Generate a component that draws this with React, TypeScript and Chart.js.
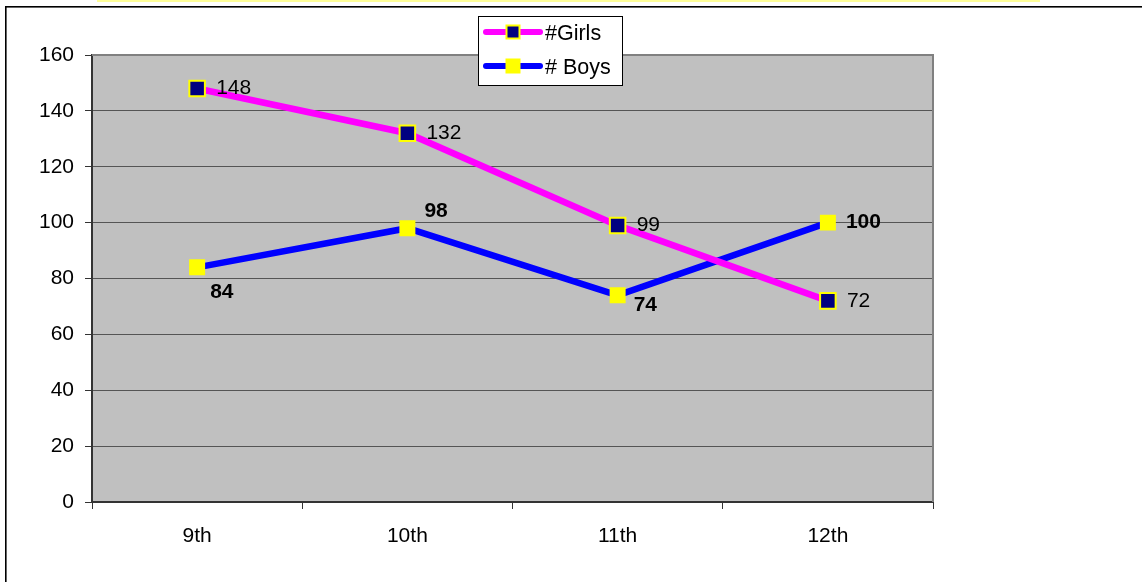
import React, { useEffect, useRef } from "react";
import { Chart, registerables } from "chart.js";

Chart.register(...registerables);

// ---- data ----
const categories = ["9th", "10th", "11th", "12th"];
const girls = [148, 132, 99, 72];
const boys = [84, 98, 74, 100];
const seriesNames = ["#Girls", "# Boys"];
const yMin = 0;
const yMax = 160;
const yStep = 20;

// ---- styles ----
const FONT = "'Liberation Sans', Arial, sans-serif";
const W = 1142;
const H = 582;
const PLOT = { left: 92, top: 55, right: 933, bottom: 502 };
// label offsets (px) relative to each point, per series
const girlsLabelOffsets = [
  [19, 0],
  [19, 0],
  [19, 0],
  [19, 0],
];
const boysLabelOffsets = [
  [13, 25],
  [17, -17],
  [16, 10],
  [18, 0],
];

const framePlugin = {
  id: "frame",
  beforeDraw(chart: any) {
    const ctx = chart.ctx;
    const ca = chart.chartArea;
    ctx.save();
    ctx.fillStyle = "#ffffff";
    ctx.fillRect(0, 0, W, H);
    // pale yellow strip at top
    ctx.fillStyle = "#FFFF99";
    ctx.fillRect(97, 0, 943, 2);
    // outer border (top & left visible)
    ctx.fillStyle = "#000000";
    ctx.fillRect(5, 6, W - 5, 1.6);
    ctx.fillRect(5, 6, 1.6, H - 6);
    // plot area
    ctx.fillStyle = "#C0C0C0";
    ctx.fillRect(ca.left, ca.top, ca.right - ca.left, ca.bottom - ca.top);
    ctx.restore();
  },
  beforeDatasetsDraw(chart: any) {
    const ctx = chart.ctx;
    const ca = chart.chartArea;
    ctx.save();
    ctx.strokeStyle = "#808080";
    ctx.lineWidth = 2;
    ctx.beginPath();
    ctx.moveTo(ca.left, ca.top);
    ctx.lineTo(ca.right, ca.top);
    ctx.lineTo(ca.right, ca.bottom);
    ctx.stroke();
    ctx.restore();
  },
};

const labelPlugin = {
  id: "valueLabels",
  afterDatasetsDraw(chart: any) {
    const ctx = chart.ctx;
    ctx.save();
    ctx.textBaseline = "middle";
    ctx.textAlign = "left";
    ctx.fillStyle = "#000";
    chart.data.datasets.forEach((ds: any, di: number) => {
      const meta = chart.getDatasetMeta(di);
      const offs = di === 0 ? girlsLabelOffsets : boysLabelOffsets;
      ctx.font = (di === 0 ? "" : "bold ") + "21px " + FONT;
      meta.data.forEach((pt: any, i: number) => {
        const [dx, dy] = offs[i];
        ctx.fillText(String(ds.data[i]), pt.x + dx, pt.y + dy);
      });
    });
    ctx.restore();
  },
};

const legendPlugin = {
  id: "customLegend",
  afterDraw(chart: any) {
    const ctx = chart.ctx;
    const box = { x: 478.5, y: 16.5, w: 144, h: 69 };
    ctx.save();
    ctx.fillStyle = "#fff";
    ctx.fillRect(box.x, box.y, box.w, box.h);
    ctx.strokeStyle = "#000";
    ctx.lineWidth = 1;
    ctx.strokeRect(box.x, box.y, box.w, box.h);
    const rows = [32, 66];
    chart.data.datasets.forEach((ds: any, di: number) => {
      const y = rows[di];
      ctx.strokeStyle = ds.borderColor;
      ctx.lineWidth = 6;
      ctx.lineCap = "round";
      ctx.beginPath();
      ctx.moveTo(486, y);
      ctx.lineTo(540, y);
      ctx.stroke();
      // marker
      const s = 15;
      ctx.fillStyle = ds.pointBorderColor;
      ctx.fillRect(513 - s / 2, y - s / 2, s, s);
      if (ds.pointBorderWidth > 0) {
        const inner = s - 2 * ds.pointBorderWidth;
        ctx.fillStyle = ds.pointBackgroundColor;
        ctx.fillRect(513 - inner / 2, y - inner / 2, inner, inner);
      }
      ctx.fillStyle = "#000";
      ctx.font = "21.5px " + FONT;
      ctx.textBaseline = "middle";
      ctx.textAlign = "left";
      ctx.fillText(ds.label, 545, y + 2.5);
    });
    ctx.restore();
  },
};

export default function App() {
  const ref = useRef<HTMLCanvasElement>(null);

  useEffect(() => {
    if (!ref.current) return;
    const chart = new Chart(ref.current, {
      type: "line",
      data: {
        labels: categories,
        datasets: [
          {
            label: seriesNames[0],
            data: girls,
            borderColor: "#FF00FF",
            borderWidth: 6.5,
            pointStyle: "rect",
            pointRadius: 11,
            pointHoverRadius: 11,
            pointBackgroundColor: "#000080",
            pointBorderColor: "#FFFF00",
            pointBorderWidth: 2,
            tension: 0,
            fill: false,
          },
          {
            label: seriesNames[1],
            data: boys,
            borderColor: "#0000FF",
            borderWidth: 6.5,
            pointStyle: "rect",
            pointRadius: 11.3,
            pointHoverRadius: 11.3,
            pointBackgroundColor: "#FFFF00",
            pointBorderColor: "#FFFF00",
            pointBorderWidth: 0,
            tension: 0,
            fill: false,
          },
        ],
      },
      options: {
        animation: false,
        responsive: false,
        maintainAspectRatio: false,
        devicePixelRatio: 1,
        events: [],
        layout: {
          padding: { left: 0, top: PLOT.top, right: W - PLOT.right, bottom: 0 },
        },
        plugins: {
          legend: { display: false },
          tooltip: { enabled: false },
          title: { display: false },
        },
        scales: {
          x: {
            type: "category",
            offset: true,
            grid: {
              offset: true,
              drawOnChartArea: false,
              drawTicks: true,
              tickLength: 7,
              color: "#333",
              lineWidth: 1,
            },
            border: { display: true, color: "#333", width: 2 },
            ticks: {
              color: "#000",
              font: { family: FONT, size: 21 },
              padding: 15,
              maxRotation: 0,
              autoSkip: false,
            },
            afterFit: (s: any) => {
              s.height = H - PLOT.bottom;
            },
          },
          y: {
            min: yMin,
            max: yMax,
            ticks: {
              stepSize: yStep,
              color: "#000",
              font: { family: FONT, size: 21 },
              padding: 11,
            },
            grid: {
              color: "#555",
              lineWidth: 1,
              tickLength: 7,
              drawTicks: true,
              tickColor: "#333",
            },
            border: { display: true, color: "#333", width: 2 },
            afterFit: (s: any) => {
              s.width = PLOT.left;
            },
          },
        },
      },
      plugins: [framePlugin, labelPlugin, legendPlugin],
    } as any);
    return () => chart.destroy();
  }, []);

  return (
    <div style={{ position: "absolute", left: 0, top: 0, width: W, height: H }}>
      <canvas ref={ref} width={W} height={H} style={{ display: "block" }} />
    </div>
  );
}
